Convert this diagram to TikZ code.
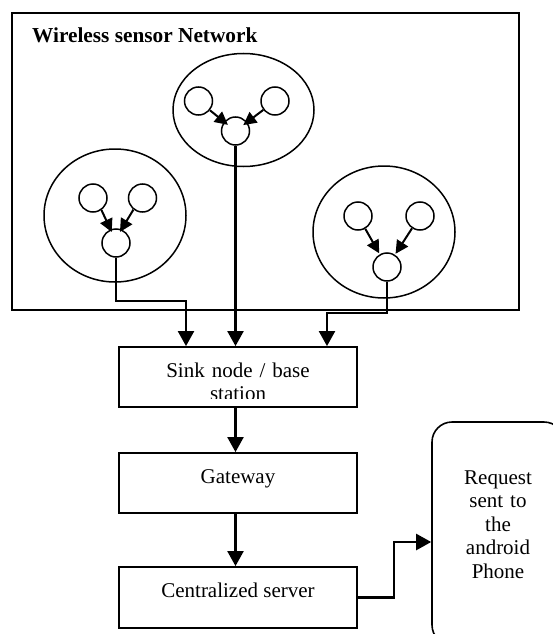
\documentclass[tikz,border=0pt]{standalone}
\usepackage{fontspec}
\setmainfont{Liberation Serif}
\usetikzlibrary{arrows.meta,shapes.geometric}
\begin{document}
\begin{tikzpicture}[x=1pt,y=-1pt,
  txt/.style={font=\fontsize{21}{23.5}\selectfont},
  box/.style={draw, line width=1.8pt, minimum width=238pt, minimum height=60pt, inner sep=0pt, txt, text height=14pt, text depth=14pt},
  cluster/.style={draw, ellipse, line width=1.5pt, inner sep=0pt},
  sensor/.style={draw, circle, line width=1.5pt, minimum size=28pt, inner sep=0pt},
  conn/.style={line width=2.2pt, -{Triangle[width=16pt,length=15pt]}},
  hop/.style={line width=2pt, -{Triangle[width=13pt,length=13pt]}, shorten >=-3pt}]
\useasboundingbox (0,0) rectangle (552,634);
% outer network box
\node[draw, line width=2.2pt, minimum width=507pt, minimum height=297pt, inner sep=0pt] (wsn) at (265.5,161.5) {};
\node[font=\bfseries\fontsize{21.3}{25}\selectfont, anchor=base west, inner sep=0pt] (title) at (32,43) {Wireless sensor Network};
% middle cluster
\node[cluster, minimum width=141pt, minimum height=113pt] (mcl) at (243.5,110) {};
\node[sensor] (m1) at (198.5,101) {};
\node[sensor] (m2) at (275,101) {};
\node[sensor] (m3) at (235.5,131) {};
\draw[hop, shorten >=-5pt] (m1) -- (m3);
\draw[hop, shorten >=-5pt] (m2) -- (m3);
% left cluster
\node[cluster, minimum width=142pt, minimum height=133pt] (lcl) at (115,215.5) {};
\node[sensor] (l1) at (93,198) {};
\node[sensor] (l2) at (142.5,198) {};
\node[sensor] (l3) at (116,243) {};
\draw[hop] (l1.-55) -- (l3.112);
\draw[hop] (l2.-128) -- (l3.68);
% right cluster
\node[cluster, minimum width=142pt, minimum height=132pt] (rcl) at (384,232) {};
\node[sensor] (r1) at (358,216) {};
\node[sensor] (r2) at (420,216) {};
\node[sensor] (r3) at (387,267) {};
\draw[hop, shorten >=1pt] (r1) -- (r3);
\draw[hop, shorten >=1pt] (r2) -- (r3);
% chain boxes
\node[box] (sink) at (238,377) {};
\begin{scope}
\clip (119,347) rectangle (357,398);
\node[txt, text width=230pt, align=center, anchor=base, inner sep=0pt] (sinktext) at (238,377) {Sink node / base\\station};
\end{scope}
\node[box] (gate) at (238,483) {Gateway};
\node[box, minimum height=61pt] (server) at (238,597.5) {Centralized server};
\node[draw, line width=1.6pt, rounded corners=20pt, minimum width=132pt, minimum height=223pt, inner sep=0pt] (phone) at (498,533.5) {};
\node[txt, text width=120pt, align=center, anchor=base, inner sep=0pt] (phonetext) at (498,484) {Request\\sent to\\the\\android\\Phone};
% connectors
\coordinate (jl) at (186,301);
\coordinate (jr) at (327,313);
\coordinate (jp) at (394,542);
\draw[conn] (l3) |- (jl) -- (jl |- sink.north);
\draw[conn] (m3) -- (m3 |- sink.north);
\draw[conn] (r3) |- (jr) -- (jr |- sink.north);
\draw[conn] (m3 |- sink.south) -- (m3 |- gate.north);
\draw[conn] (m3 |- gate.south) -- (m3 |- server.north);
\draw[conn] (server.east) -| (jp) -- (jp -| phone.west);
\end{tikzpicture}
\end{document}
